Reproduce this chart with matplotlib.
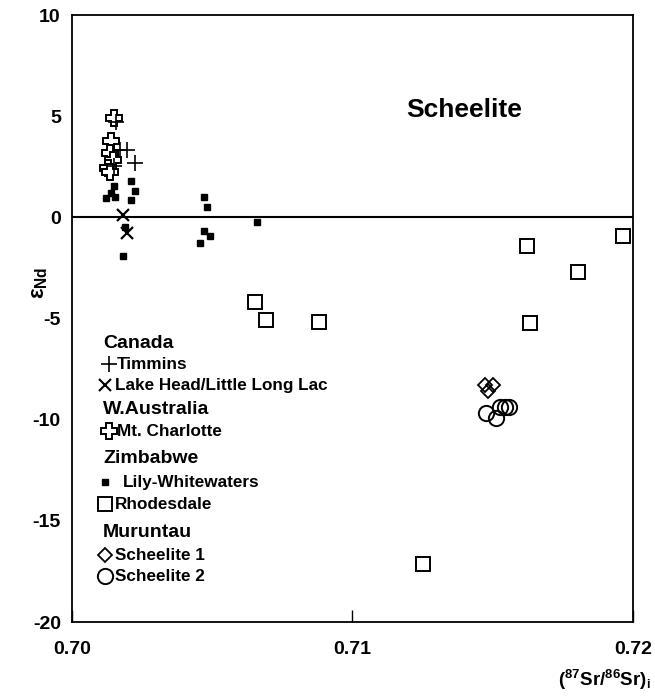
import matplotlib
matplotlib.use("Agg")
import matplotlib.pyplot as plt

plt.rcParams['font.family'] = ['Liberation Sans', 'DejaVu Sans']
plt.rcParams['font.weight'] = 'bold'
plt.rcParams['axes.unicode_minus'] = False
plt.rcParams['mathtext.fontset'] = 'custom'
plt.rcParams['mathtext.rm'] = 'Liberation Sans:bold'
plt.rcParams['mathtext.bf'] = 'Liberation Sans:bold'
plt.rcParams['mathtext.it'] = 'Liberation Sans:bold'

# ---- data ----
timmins_x = [0.70157, 0.70171, 0.70196, 0.70225, 0.70150]
timmins_y = [4.70, 3.31, 3.31, 2.67, 2.55]

lakehead_x = [0.70182, 0.70196]
lakehead_y = [0.10, -0.79]

charlotte_x = [0.70150, 0.70139, 0.70135, 0.70146, 0.70128, 0.70135]
charlotte_y = [4.89, 3.76, 3.16, 2.82, 2.42, 2.22]

lily_x = [0.70210, 0.70225, 0.70210, 0.70121, 0.70139, 0.70150, 0.70153,
          0.70189, 0.70182, 0.70471, 0.70481, 0.70471, 0.70492, 0.70456, 0.70660]
lily_y = [1.78, 1.29, 0.84, 0.94, 1.19, 1.53, 1.00,
          -0.49, -1.93, 1.00, 0.51, -0.69, -0.94, -1.27, -0.25]

rhodes_x = [0.70652, 0.70692, 0.70881, 0.71622, 0.71633, 0.71804, 0.71964, 0.71251]
rhodes_y = [-4.20, -5.09, -5.19, -1.42, -5.22, -2.70, -0.94, -17.15]

sch1_x = [0.71472, 0.71501, 0.71483]
sch1_y = [-8.30, -8.30, -8.60]

sch2_x = [0.71476, 0.71512, 0.71526, 0.71544, 0.71558]
sch2_y = [-9.69, -9.94, -9.39, -9.39, -9.39]

xticks = [0.70, 0.71, 0.72]
xticklabels = ['0.70', '0.71', '0.72']
yticks = [-20, -15, -10, -5, 0, 5, 10]

fig = plt.figure(figsize=(6.55, 6.96), dpi=100)
ax = fig.add_axes([0.1099, 0.1063, 0.8565, 0.8721])
ax.set_xlim(0.70, 0.72)
ax.set_ylim(-20, 10)

ax.axhline(0, color='black', lw=1.5, zorder=1)

ax.plot(charlotte_x, charlotte_y, ls='none', marker='P', ms=12, mfc='white', mec='black', mew=1.4)
ax.plot(timmins_x, timmins_y, ls='none', marker='+', ms=12, mec='black', mew=1.2)
ax.plot(lakehead_x, lakehead_y, ls='none', marker='x', ms=9, mec='black', mew=1.6)
ax.plot(lily_x, lily_y, ls='none', marker='s', ms=5, mfc='black', mec='black')
ax.plot(rhodes_x, rhodes_y, ls='none', marker='s', ms=10.5, mfc='none', mec='black', mew=1.4)
ax.plot(sch1_x, sch1_y, ls='none', marker='D', ms=7, mfc='none', mec='black', mew=1.3)
ax.plot(sch2_x, sch2_y, ls='none', marker='o', ms=11, mfc='none', mec='black', mew=1.4)

ax.set_xticks(xticks)
ax.set_xticklabels(xticklabels)
ax.set_yticks(yticks)
ax.tick_params(axis='x', direction='in', length=9, width=1, pad=14, labelsize=14)
ax.tick_params(axis='y', direction='in', length=0, width=1, pad=8, labelsize=14)
for lab in ax.get_xticklabels() + ax.get_yticklabels():
    lab.set_fontweight('bold')
for sp in ax.spines.values():
    sp.set_linewidth(1.3)

ax.text(0.595, 0.843, 'Scheelite', transform=ax.transAxes, fontsize=19,
        fontweight='bold', ha='left', va='center')

fig.text(0.061, 0.593, r'$\varepsilon_{Nd}$', rotation=90, fontsize=16,
         ha='center', va='center')
fig.text(0.993, 0.006, r'$(^{87}$Sr/$^{86}$Sr$)_{i}$', fontsize=13.5,
         fontweight='bold', ha='right', va='bottom')

# ---- legend (manual) ----
def ax_y(py):
    return (622 - py) / 607.0

def ax_x(px):
    return (px - 72) / 561.0

headers = [('Canada', 343), ('W.Australia', 409), ('Zimbabwe', 458), ('Muruntau', 532)]
for txt, py in headers:
    ax.text(ax_x(103), ax_y(py), txt, transform=ax.transAxes, fontsize=14,
            fontweight='bold', ha='left', va='center')

items = [
    ('Timmins', 364, dict(marker='+', ms=12, mec='black', mew=1.2), 109, 117),
    ('Lake Head/Little Long Lac', 385, dict(marker='x', ms=8, mec='black', mew=1.5), 105, 115),
    ('Mt. Charlotte', 431, dict(marker='P', ms=12, mfc='white', mec='black', mew=1.4), 109, 117),
    ('Lily-Whitewaters', 482, dict(marker='s', ms=5, mfc='black', mec='black'), 105, 123),
    ('Rhodesdale', 504, dict(marker='s', ms=10, mfc='none', mec='black', mew=1.4), 105, 115),
    ('Scheelite 1', 555, dict(marker='D', ms=7, mfc='none', mec='black', mew=1.3), 105, 115),
    ('Scheelite 2', 576, dict(marker='o', ms=11, mfc='none', mec='black', mew=1.4), 105, 115),
]
for txt, py, mk, mx, tx in items:
    ax.plot([ax_x(mx)], [ax_y(py)], ls='none', transform=ax.transAxes, clip_on=False, **mk)
    ax.text(ax_x(tx), ax_y(py), txt, transform=ax.transAxes, fontsize=12.3,
            fontweight='bold', ha='left', va='center')

fig.savefig('out.png', dpi=100)
